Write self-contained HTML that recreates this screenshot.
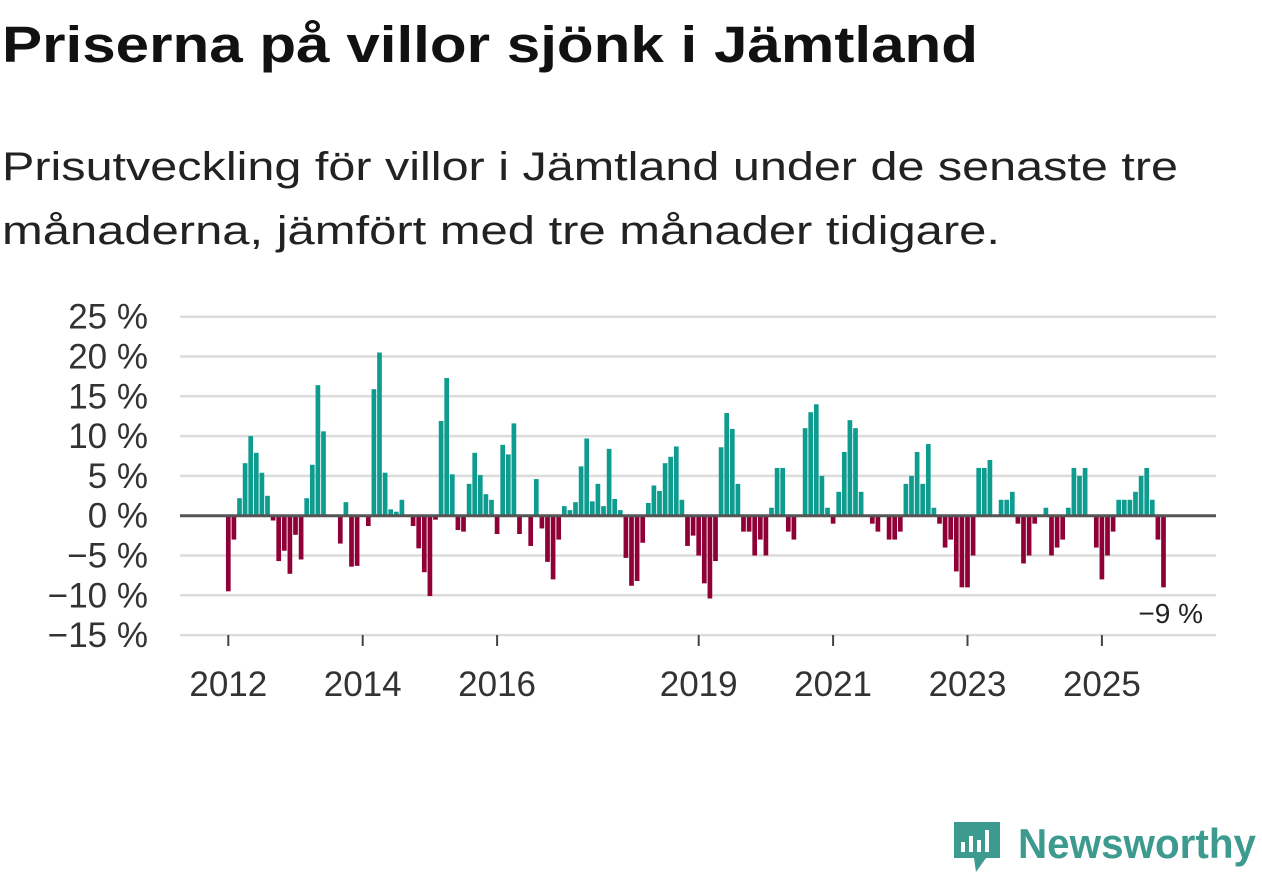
<!DOCTYPE html>
<html><head><meta charset="utf-8"><style>
html,body{margin:0;padding:0;background:#fff;}
svg{display:block;font-family:"Liberation Sans",sans-serif;}
</style></head><body>
<svg id="chart" width="1262" height="879" viewBox="0 0 1262 879" xmlns="http://www.w3.org/2000/svg">
<text x="2" y="62" font-size="51" font-weight="bold" fill="#111" textLength="976" lengthAdjust="spacingAndGlyphs">Priserna på villor sjönk i Jämtland</text>
<text x="2" y="180" font-size="40" fill="#222" textLength="1176" lengthAdjust="spacingAndGlyphs">Prisutveckling för villor i Jämtland under de senaste tre</text>
<text x="2" y="244" font-size="40" fill="#222" textLength="998" lengthAdjust="spacingAndGlyphs">månaderna, jämfört med tre månader tidigare.</text>
<g id="grid"></g><g id="bars"></g><g id="axes"></g>
<g>
<text x="1203" y="623" text-anchor="end" font-size="28" fill="#fff" stroke="#fff" stroke-width="6">−9 %</text>
<text x="1203" y="623" text-anchor="end" font-size="28" fill="#222">−9 %</text>
</g>
<g>
<path d="M954 822 h46 v36 h-14 l-10 14 l-2 -14 h-20 z" fill="#3d9a8e"/>
<rect x="961" y="842" width="4" height="10" fill="#fff"/><rect x="969" y="836" width="4" height="16" fill="#fff"/><rect x="977" y="840" width="4" height="12" fill="#fff"/><rect x="985" y="830" width="4" height="22" fill="#fff"/>
<text x="1018" y="858" font-size="42" font-weight="bold" fill="#3d9a8e" textLength="238" lengthAdjust="spacingAndGlyphs">Newsworthy</text>
</g>
</svg>
<script>
const values2012to2018 = [-9.5,-3,2.2,6.6,10,7.9,5.4,2.5,-0.6,-5.7,-4.4,-7.3,
-2.4,-5.5,2.2,6.4,16.4,10.6,0,0,-3.5,1.7,-6.4,-6.3,
0,-1.3,15.9,20.5,5.4,0.8,0.5,2,0,-1.3,-4.1,-7.1,
-10.1,-0.5,11.9,17.3,5.2,-1.8,-2,4,7.9,5.1,2.7,2,
-2.3,8.9,7.7,11.6,-2.3,0,-3.8,4.6,-1.6,-5.8,-8,-3,
1.2,0.7,1.7,6.2,9.7,1.8,4,1.2,8.4,2.1,0.7,-5.3,
-8.8,-8.2,-3.4,1.6,3.8,3.1,6.6,7.4,8.7,2,-3.8,-2.5];
const values2019to2025 = [-5,-8.5,-10.4,-5.7,8.6,12.9,10.9,4,-2,-2,-5,-3,
-5,1,6,6,-2,-3,0,11,13,14,5,1,
-1,3,8,12,11,3,0,-1,-2,0,-3,-3,
-2,4,5,8,4,9,1,-1,-4,-3,-7,-9,
-9,-5,6,6,7,0,2,2,3,-1,-6,-5,
-1,0,1,-5,-4,-3,1,6,5,6,0,-4,
-8,-5,-2,2,2,2,3,5,6,2,-3,-9];
const yTicks = [25,20,15,10,5,0,-5,-10,-15];
const xTickYears = [2012,2014,2016,2019,2021,2023,2025];
const values = values2012to2018.concat(values2019to2025);
const NS="http://www.w3.org/2000/svg";
const y = v => 515.7 - v*7.96;
const x = i => 228.3 + i*5.6;
const xYear = yr => x((yr-2012)*12);
function mk(tag, attrs, parent){const e=document.createElementNS(NS,tag);for(const k in attrs)e.setAttribute(k,attrs[k]);parent.appendChild(e);return e;}
const grid=document.getElementById('grid'), bars=document.getElementById('bars'), axes=document.getElementById('axes');
yTicks.forEach(t=>{
  if(t!==0){const l=mk('line',{x1:180,x2:1216,y1:y(t),y2:y(t),stroke:'#dcdcdc','stroke-width':2.5},grid);
  
  }
  const tx=mk('text',{x:148,y:y(t)+12,'text-anchor':'end','font-size':35,fill:'#333'},axes);
  tx.textContent=(t<0?'−'+(-t):t)+' %';
  
  
});
values.forEach((v,i)=>{
  const r=mk('rect',{x:x(i)-2.35,width:4.7,y:v>=0?y(v):y(0),height:Math.abs(y(v)-y(0)),fill:v>=0?'#0e9c8f':'#8e0036'},bars);
  
  
});
const zl=mk('line',{x1:180,x2:1216,y1:y(0),y2:y(0),stroke:'#555','stroke-width':3},axes);


const bl=mk('line',{x1:180,x2:1216,y1:635,y2:635,stroke:'#dcdcdc','stroke-width':1.5},axes);


xTickYears.forEach(yr=>{
  const tk=mk('line',{x1:xYear(yr),x2:xYear(yr),y1:635,y2:646,stroke:'#444','stroke-width':2},axes);
  
  
  const tx=mk('text',{x:xYear(yr),y:696,'text-anchor':'middle','font-size':35,fill:'#333'},axes);
  tx.textContent=yr;
  
  
});
</script>
</body></html>
